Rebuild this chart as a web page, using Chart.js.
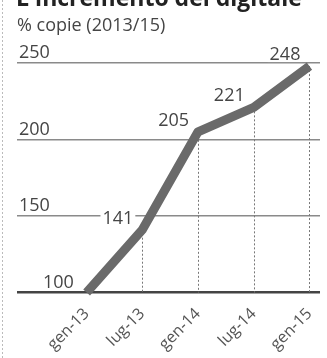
<!DOCTYPE html>
<html>
<head>
<meta charset="utf-8">
<script src="https://cdn.jsdelivr.net/npm/chart.js@4/dist/chart.umd.min.js"></script>
<style>
  body { margin: 0; background: #fff; }
</style>
</head>
<body>
<canvas id="myChart" width="327" height="358"></canvas>
<script>
const title = "L'incremento del digitale";
const subtitle = '% copie (2013/15)';
const categories = ['gen-13', 'lug-13', 'gen-14', 'lug-14', 'gen-15'];
const copies = [100, 141, 205, 221, 248];
const yTicks = [100, 150, 200, 250];

const textColor = '#454545';
const font = '"Open Sans", sans-serif';

// header text, tick values above the gridlines, value labels and drop lines
const decorations = {
  id: 'decorations',
  beforeDatasetsDraw(chart) {
    const { ctx, scales: { x, y } } = chart;
    ctx.save();
    ctx.strokeStyle = '#777';
    ctx.lineWidth = 1;
    ctx.setLineDash([2, 2]);
    copies.forEach((v, i) => {
      if (i === 0) return;
      const px = Math.round(x.getPixelForValue(i)) + 0.5;
      ctx.beginPath();
      ctx.moveTo(px, y.getPixelForValue(v));
      ctx.lineTo(px, y.getPixelForValue(yTicks[0]));
      ctx.stroke();
    });
    ctx.restore();
  },
  afterDatasetsDraw(chart) {
    const { ctx, scales: { x, y } } = chart;
    ctx.save();

    // left edge of the clipping
    ctx.strokeStyle = '#bbb';
    ctx.setLineDash([2, 2]);
    ctx.beginPath();
    ctx.moveTo(2.5, 0);
    ctx.lineTo(2.5, 358);
    ctx.stroke();
    ctx.setLineDash([]);

    ctx.fillStyle = '#222';
    ctx.font = 'bold 23px ' + font;
    ctx.textBaseline = 'alphabetic';
    ctx.fillText(title, 16, 6);

    ctx.fillStyle = textColor;
    ctx.font = '18px ' + font;
    ctx.fillText(subtitle, 17, 31);

    ctx.textBaseline = 'bottom';
    yTicks.forEach(t => {
      const tx = t === yTicks[0] ? 43 : 19;
      ctx.fillText(String(t), tx, y.getPixelForValue(t) - 1);
    });

    ctx.textAlign = 'right';
    copies.forEach((v, i) => {
      if (i === 0) return;
      const px = x.getPixelForValue(i) - 9;
      const py = y.getPixelForValue(v) - 2;
      const w = ctx.measureText(String(v)).width;
      ctx.fillStyle = '#fff';
      ctx.fillRect(px - w - 2, py - 17, w + 4, 15);
      ctx.fillStyle = textColor;
      ctx.fillText(String(v), px, py);
    });
    ctx.restore();
  }
};

new Chart(document.getElementById('myChart'), {
  type: 'line',
  data: {
    datasets: [{
      data: copies.map((v, i) => ({ x: i, y: v })),
      borderColor: '#6a6a6a',
      borderWidth: 9,
      borderJoinStyle: 'round',
      pointRadius: 0,
      tension: 0,
      clip: false
    }]
  },
  options: {
    responsive: false,
    animation: false,
    events: [],
    layout: { padding: { left: 17, right: 0, top: 63, bottom: 0 } },
    plugins: { legend: { display: false }, tooltip: { enabled: false } },
    scales: {
      x: {
        type: 'linear',
        min: -1.25,
        max: 4.19,
        afterBuildTicks: axis => { axis.ticks = categories.map((c, i) => ({ value: i })); },
        border: { display: false },
        grid: { display: false },
        ticks: {
          autoSkip: false,
          minRotation: 45,
          maxRotation: 45,
          padding: 4,
          color: '#555',
          font: { family: 'Open Sans', size: 16 },
          callback: v => categories[v] || ''
        }
      },
      y: {
        min: 100,
        max: 250,
        afterBuildTicks: axis => { axis.ticks = yTicks.map(v => ({ value: v })); },
        border: { display: false },
        grid: {
          drawTicks: false,
          color: ctx => ctx.tick && ctx.tick.value === 100 ? '#444' : '#8a8a8a',
          lineWidth: ctx => ctx.tick && ctx.tick.value === 100 ? 2.5 : 1.5
        },
        ticks: { display: false }
      }
    }
  },
  plugins: [decorations]
});
</script>
</body>
</html>
